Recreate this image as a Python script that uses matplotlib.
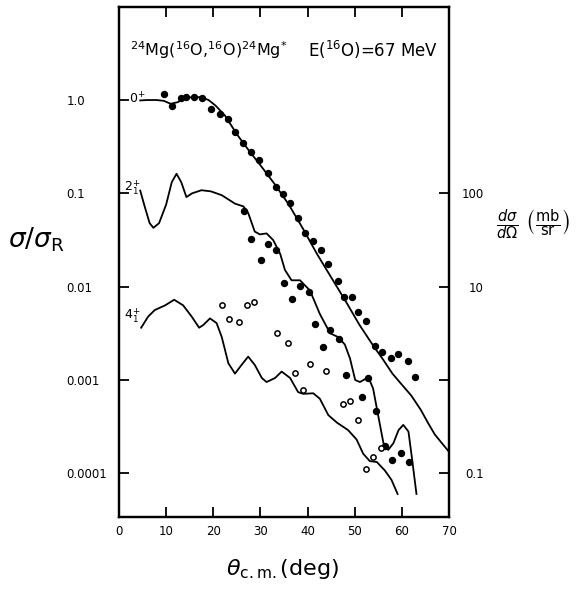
import numpy as np
import matplotlib
matplotlib.use("Agg")
import matplotlib.pyplot as plt
from matplotlib.ticker import FixedLocator, FixedFormatter, NullLocator

# ---------------- data ----------------
# 0+ elastic: theory curve and data points (sigma / sigma_R)
theta_0_curve = [4.5, 6, 8, 9.5, 11, 12.5, 14, 16, 17.5, 19, 20.5, 22.5, 25, 27.5, 30, 33, 36, 39,
                 42, 45, 48, 51, 54, 56, 58, 60, 62, 64, 65.5, 67, 68.5, 70]
sigma_0_curve = [0.99, 1.0, 1.0, 0.98, 0.91, 0.95, 1.05, 1.08, 1.07, 1.0, 0.87, 0.68, 0.43, 0.29, 0.20,
                 0.126, 0.076, 0.042, 0.0224, 0.0126, 0.0071, 0.0039, 0.0023, 0.00166, 0.00117, 0.00089,
                 0.00068, 0.00048, 0.00035, 0.00026, 0.00021, 0.00017]
theta_0_data = [9.5, 11.2, 13.1, 14.3, 16.0, 17.7, 19.6, 21.4, 23.2, 24.6, 26.4, 28.1, 29.8, 31.5, 33.3,
                34.7, 36.3, 37.9, 39.5, 41.1, 42.8, 44.4, 46.4, 47.7, 49.4, 50.8, 52.3, 54.2, 55.7, 57.6,
                59.1, 61.4, 62.7]
sigma_0_data = [1.16, 0.86, 1.04, 1.07, 1.07, 1.06, 0.81, 0.71, 0.62, 0.45, 0.35, 0.28, 0.23, 0.166, 0.117,
                0.098, 0.078, 0.054, 0.038, 0.031, 0.0245, 0.0174, 0.0115, 0.0078, 0.0078, 0.0054, 0.0043,
                0.0023, 0.0020, 0.00174, 0.0019, 0.00158, 0.00107]

# 2+ state
theta_2_curve = [4.5, 5.5, 6.5, 7.3, 8.5, 10, 11.2, 12.2, 13.2, 14.3, 15.5, 17.5, 19.5, 21.8, 24.6, 26.4,
                 27.4, 28.8, 29.9, 31.3, 32.7, 34.2, 35.2, 36.6, 38.4, 40.5, 42.6, 44.8, 46.5, 47.9, 49.0,
                 50.1, 51.1, 52.9, 53.9, 55.0, 56.1, 57.1, 58.2, 59.3, 60.3, 61.4, 62.1, 63.1]
sigma_2_curve = [0.107, 0.0708, 0.0479, 0.0427, 0.0479, 0.0759, 0.132, 0.162, 0.132, 0.0912, 0.1, 0.108,
                 0.105, 0.0955, 0.0776, 0.0724, 0.0617, 0.0389, 0.0363, 0.0372, 0.0316, 0.0224, 0.0151,
                 0.0117, 0.0117, 0.0091, 0.0051, 0.00316, 0.00288, 0.0024, 0.0017, 0.0010, 0.00095,
                 0.00107, 0.00081, 0.00041, 0.00021, 0.000178, 0.00021, 0.00029, 0.00033, 0.00028,
                 0.000151, 0.00006]
theta_2_data = [26.5, 28.1, 30.1, 31.5, 33.3, 34.9, 36.8, 38.3, 40.4, 41.6, 43.2, 44.8, 46.7, 48.2, 51.5,
                52.9, 54.6, 56.5, 58.0, 59.8, 61.6]
sigma_2_data = [0.0646, 0.0324, 0.0195, 0.0288, 0.0245, 0.011, 0.0074, 0.0102, 0.0087, 0.0040, 0.00224,
                0.0034, 0.00275, 0.00112, 0.00066, 0.00105, 0.00046, 0.000195, 0.000138, 0.000166,
                0.000132]

# 4+ state
theta_4_curve = [4.7, 6.2, 7.6, 9.8, 11.7, 13.6, 15.4, 17.0, 17.9, 19.3, 20.7, 21.8, 23.2, 24.6, 26.0,
                 27.4, 28.8, 30.3, 31.3, 33.1, 34.5, 36.3, 38.0, 39.1, 41.2, 42.6, 44.4, 46.2, 48.6, 50.4,
                 51.8, 53.2, 54.7, 56.4, 57.8, 59.1]
sigma_4_curve = [0.00363, 0.00479, 0.00562, 0.00631, 0.00724, 0.00631, 0.00479, 0.00363, 0.00389, 0.00457,
                 0.00407, 0.00288, 0.00151, 0.00117, 0.00145, 0.00178, 0.00145, 0.00105, 0.00095, 0.00105,
                 0.00123, 0.00105, 0.00074, 0.00071, 0.00072, 0.00063, 0.00042, 0.00035, 0.00029, 0.00023,
                 0.000162, 0.000135, 0.000132, 0.000107, 0.000085, 0.00006]
theta_4_data = [21.8, 23.4, 25.5, 27.1, 28.7, 33.6, 35.8, 37.3, 39.0, 40.5, 43.9, 47.6, 48.9, 50.6, 52.3,
                53.9, 55.5]
sigma_4_data = [0.0063, 0.0045, 0.0042, 0.0063, 0.0068, 0.0032, 0.0025, 0.0012, 0.00079, 0.00148, 0.00126,
                0.00055, 0.00059, 0.00037, 0.000112, 0.000151, 0.000186]

# axis ticks
x_ticks = [0, 10, 20, 30, 40, 50, 60, 70]
x_tick_labels = ["0", "10", "20", "30", "40", "50", "60", "70"]
y_ticks = [1.0, 0.1, 0.01, 0.001, 0.0001]
y_tick_labels = ["1.0", "0.1", "0.01", "0.001", "0.0001"]
y2_ticks = [100, 10, 1, 0.1]
y2_tick_labels = ["100", "10", "", "0.1"]
conversion = 1000.0  # dσ/dΩ (mb/sr) per unit σ/σR

# ---------------- figure ----------------
W, H = 587, 589
fig = plt.figure(figsize=(W / 100, H / 100), dpi=100)
L, R, B, T = 119, 449, 517, 7
ax = fig.add_axes([L / W, 1 - B / H, (R - L) / W, (B - T) / H])

ylo, yhi = 3.4e-5, 9.93
ax.set_xlim(0, 70)
ax.set_yscale("log")
ax.set_ylim(ylo, yhi)

lw = 1.3
ax.plot(theta_0_curve, sigma_0_curve, color="black", lw=lw, solid_joinstyle="round")
ax.plot(theta_2_curve, sigma_2_curve, color="black", lw=lw, solid_joinstyle="round")
ax.plot(theta_4_curve, sigma_4_curve, color="black", lw=lw, solid_joinstyle="round")
ax.plot(theta_0_data, sigma_0_data, "o", color="black", ms=4.3, ls="none")
ax.plot(theta_2_data, sigma_2_data, "o", color="black", ms=4.3, ls="none")
ax.plot(theta_4_data, sigma_4_data, "o", mfc="white", mec="black", mew=1.1, ms=3.8, ls="none")

for sp in ax.spines.values():
    sp.set_linewidth(1.6)

ax.xaxis.set_major_locator(FixedLocator(x_ticks))
ax.xaxis.set_major_formatter(FixedFormatter(x_tick_labels))
ax.xaxis.set_minor_locator(NullLocator())
ax.yaxis.set_major_locator(FixedLocator(y_ticks))
ax.yaxis.set_major_formatter(FixedFormatter(y_tick_labels))
ax.yaxis.set_minor_locator(NullLocator())
ax.tick_params(axis="x", which="major", direction="in", length=7, width=1.3, top=True, bottom=True,
               pad=6, labelsize=8.5)
ax.tick_params(axis="y", which="major", direction="in", length=7, width=1.3, left=True, right=False,
               pad=38, labelsize=8.5)
for lab in ax.get_yticklabels():
    lab.set_horizontalalignment("left")

ax2 = ax.twinx()
ax2.set_yscale("log")
ax2.set_ylim(ylo * conversion, yhi * conversion)
ax2.yaxis.set_major_locator(FixedLocator(y2_ticks))
ax2.yaxis.set_major_formatter(FixedFormatter(y2_tick_labels))
ax2.yaxis.set_minor_locator(NullLocator())
ax2.tick_params(axis="y", which="major", direction="in", length=7, width=1.3, pad=25, labelsize=8.5)
for lab in ax2.get_yticklabels():
    lab.set_horizontalalignment("right")
for sp in ax2.spines.values():
    sp.set_linewidth(1.6)

# ---------------- annotations ----------------
def px(x, y):
    return (x / W, 1 - y / H)

fig.text(*px(130, 50), r"$^{24}$Mg($^{16}$O,$^{16}$O)$^{24}$Mg$^{*}$", fontsize=11.5,
         ha="left", va="center")
fig.text(*px(308, 50), r"E($^{16}$O)=67 MeV", fontsize=12, ha="left", va="center")
fig.text(*px(129, 99), r"0$^{+}$", fontsize=9, ha="left", va="center")
fig.text(*px(124, 188), r"2$_{1}^{+}$", fontsize=9, ha="left", va="center")
fig.text(*px(124, 316), r"4$_{1}^{+}$", fontsize=9, ha="left", va="center")

fig.text(*px(36, 240), r"$\sigma/\sigma_{\mathrm{R}}$", fontsize=19, ha="center", va="center")
fig.text(*px(533, 225), r"$\frac{d\sigma}{d\Omega}\ \left(\frac{\mathrm{mb}}{\mathrm{sr}}\right)$",
         fontsize=15, ha="center", va="center")
fig.text(*px(283, 569), r"$\theta_{\mathrm{c.m.}}$(deg)", fontsize=16, ha="center", va="center")

fig.savefig("out.png", dpi=100)
